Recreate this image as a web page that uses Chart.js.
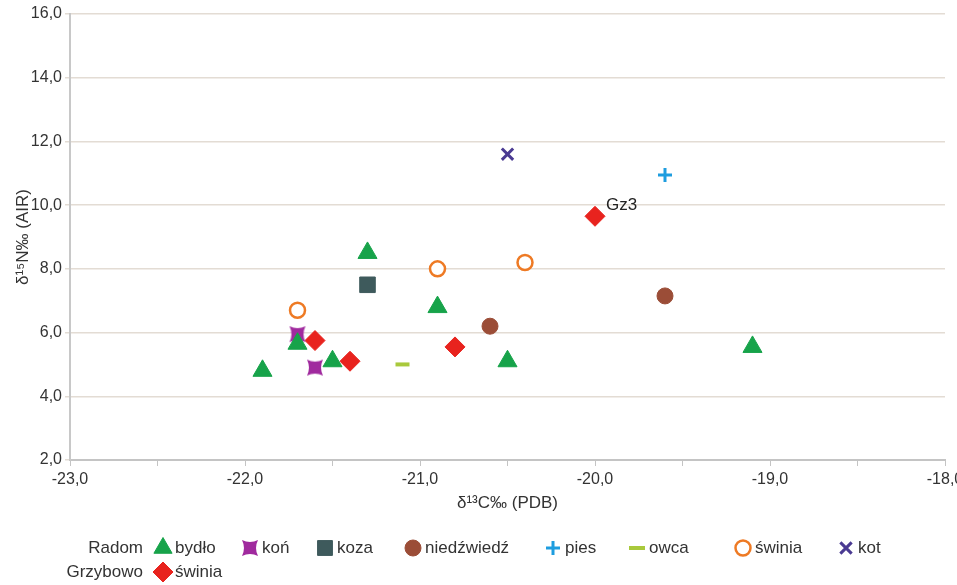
<!DOCTYPE html>
<html lang="pl">
<head>
<meta charset="UTF-8">
<title>δ13C / δ15N</title>
<script src="https://cdn.jsdelivr.net/npm/chart.js"></script>
<style>
  html, body { margin: 0; padding: 0; background: #fff; }
  #wrap { width: 957px; height: 585px; }
</style>
</head>
<body>
<div id="wrap"><canvas id="chart" width="957" height="585"></canvas></div>
<script>
// Radom
const bydloX = [-21.9, -21.7, -21.5, -21.3, -20.9, -20.5, -19.1];
const bydloY = [4.8, 5.65, 5.1, 8.5, 6.8, 5.1, 5.55];
const konX = [-21.7, -21.6];
const konY = [5.95, 4.9];
const kozaX = [-21.3];
const kozaY = [7.5];
const niedzX = [-20.6, -19.6];
const niedzY = [6.2, 7.15];
const piesX = [-19.6];
const piesY = [10.95];
const owcaX = [-21.1];
const owcaY = [5.0];
const swiniaRX = [-21.7, -20.9, -20.4];
const swiniaRY = [6.7, 8.0, 8.2];
const kotX = [-20.5];
const kotY = [11.6];
// Grzybowo
const swiniaGX = [-21.6, -21.4, -20.8, -20.0];
const swiniaGY = [5.75, 5.1, 5.55, 9.65];
const swiniaGLabels = ['', '', '', 'Gz3'];

const pts = (xs, ys) => xs.map((x, i) => ({ x: x, y: ys[i] }));
const fmt = v => v.toFixed(1).replace('.', ',');
const FONT = "'Liberation Sans', Arial, sans-serif";
const TXT = '#333';

// koń marker: concave square
function konImage(size) {
  const c = document.createElement('canvas');
  c.width = size; c.height = size;
  const g = c.getContext('2d');
  const a = 1, b = size - 1, m = size / 2, d = size * 0.22;
  g.fillStyle = '#a02a9e';
  g.beginPath();
  g.moveTo(a, a);
  g.quadraticCurveTo(m, a + d, b, a);
  g.quadraticCurveTo(b - d, m, b, b);
  g.quadraticCurveTo(m, b - d, a, b);
  g.quadraticCurveTo(a + d, m, a, a);
  g.fill();
  return c;
}
const konImg = konImage(18);

const datasets = [
  { label: 'bydło', data: pts(bydloX, bydloY), pointStyle: 'triangle', pointRadius: 11,
    backgroundColor: '#17a34a', borderColor: '#17a34a', borderWidth: 1, group: 'Radom' },
  { label: 'koń', data: pts(konX, konY), pointStyle: konImg, pointRadius: 9,
    backgroundColor: '#a02a9e', borderColor: '#a02a9e', group: 'Radom', legendImg: konImg },
  { label: 'koza', data: pts(kozaX, kozaY), pointStyle: 'rect', pointRadius: 11,
    backgroundColor: '#3e5a5c', borderColor: '#3e5a5c', borderWidth: 1, group: 'Radom' },
  { label: 'niedźwiedź', data: pts(niedzX, niedzY), pointStyle: 'circle', pointRadius: 8,
    backgroundColor: '#9b4d37', borderColor: '#9b4d37', borderWidth: 1, group: 'Radom' },
  { label: 'pies', data: pts(piesX, piesY), pointStyle: 'cross', pointRadius: 7,
    backgroundColor: '#1e9ddf', borderColor: '#1e9ddf', borderWidth: 3, group: 'Radom' },
  { label: 'owca', data: pts(owcaX, owcaY), pointStyle: 'line', pointRadius: 7,
    backgroundColor: '#a9c93c', borderColor: '#a9c93c', borderWidth: 4, group: 'Radom' },
  { label: 'świnia', data: pts(swiniaRX, swiniaRY), pointStyle: 'circle', pointRadius: 7.5,
    backgroundColor: '#ffffff', borderColor: '#ee7a24', borderWidth: 2.5, group: 'Radom' },
  { label: 'kot', data: pts(kotX, kotY), pointStyle: 'crossRot', pointRadius: 8,
    backgroundColor: '#4a3a92', borderColor: '#4a3a92', borderWidth: 3, group: 'Radom' },
  { label: 'świnia', data: pts(swiniaGX, swiniaGY), pointStyle: 'rectRot', pointRadius: 10,
    backgroundColor: '#e8231e', borderColor: '#e8231e', borderWidth: 1, group: 'Grzybowo',
    pointLabels: swiniaGLabels }
];
datasets.forEach(d => { d.pointHoverRadius = d.pointRadius; });

// legend layout (x of marker per item, row y)
const legendRows = [
  { title: 'Radom', y: 548, items: [0, 1, 2, 3, 4, 5, 6, 7], xs: [163, 250, 325, 413, 553, 637, 743, 846] },
  { title: 'Grzybowo', y: 572, items: [8], xs: [163] }
];

function drawMarker(ctx, ds, x, y) {
  if (ds.legendImg) {
    ctx.drawImage(ds.legendImg, x - ds.legendImg.width / 2, y - ds.legendImg.height / 2);
    return;
  }
  ctx.save();
  ctx.fillStyle = ds.backgroundColor;
  ctx.strokeStyle = ds.borderColor;
  ctx.lineWidth = ds.borderWidth || 1;
  const r = Math.min(ds.pointRadius, 10.5);
  Chart.helpers.drawPoint(ctx, { pointStyle: ds.pointStyle, radius: ds.pointStyle === 'line' ? 8 : r, rotation: 0,
    borderWidth: ds.borderWidth || 1 }, x, y);
  ctx.restore();
}

const extras = {
  id: 'extras',
  afterDatasetsDraw(chart) {
    const ctx = chart.ctx;
    ctx.save();
    ctx.font = '17px ' + FONT;
    ctx.fillStyle = '#222';
    ctx.textBaseline = 'bottom';
    ctx.textAlign = 'left';
    chart.data.datasets.forEach((ds, di) => {
      if (!ds.pointLabels) return;
      const meta = chart.getDatasetMeta(di);
      meta.data.forEach((el, i) => {
        const t = ds.pointLabels[i];
        if (t) ctx.fillText(t, el.x + 11, el.y - 2);
      });
    });
    ctx.restore();
  },
  afterDraw(chart) {
    const ctx = chart.ctx;
    ctx.save();
    ctx.font = '17px ' + FONT;
    ctx.fillStyle = TXT;
    ctx.textBaseline = 'middle';
    legendRows.forEach(row => {
      ctx.textAlign = 'right';
      ctx.fillStyle = TXT;
      ctx.fillText(row.title, 143, row.y);
      row.items.forEach((di, k) => {
        const ds = chart.data.datasets[di];
        const x = row.xs[k];
        drawMarker(ctx, ds, x, row.y);
        ctx.textAlign = 'left';
        ctx.fillStyle = TXT;
        ctx.fillText(ds.label, x + 12, row.y);
      });
    });
    ctx.restore();
  }
};

new Chart(document.getElementById('chart'), {
  type: 'scatter',
  data: { datasets: datasets },
  plugins: [extras],
  options: {
    responsive: false,
    animation: false,
    layout: { padding: { top: 14, right: 12, bottom: 65, left: 9 } },
    plugins: { legend: { display: false }, tooltip: { enabled: false } },
    scales: {
      x: {
        min: -23, max: -18,
        ticks: {
          stepSize: 0.5, autoSkip: false, maxRotation: 0, color: TXT,
          font: { family: FONT, size: 16 }, padding: 4,
          callback: v => (Math.abs(v - Math.round(v)) < 1e-6 ? fmt(v) : '')
        },
        grid: { drawOnChartArea: false, drawTicks: true, tickLength: 6, color: '#c4c4c4' },
        border: { color: '#c4c4c4', width: 2 },
        title: { display: true, text: 'δ¹³C‰ (PDB)', color: TXT, font: { family: FONT, size: 17 }, padding: { top: 0, bottom: 6 } },
        afterFit(s) { s.height = 60; s.paddingLeft = 0; s.paddingRight = 0; }
      },
      y: {
        min: 2, max: 16,
        ticks: { stepSize: 2, color: TXT, font: { family: FONT, size: 16 }, padding: 3, callback: v => fmt(v) },
        grid: { color: '#e3dcd4', tickLength: 5, lineWidth: 1.5 },
        border: { color: '#c8c8c8', width: 2 },
        title: { display: true, text: 'δ¹⁵N‰ (AIR)', color: TXT, font: { family: FONT, size: 17 }, padding: { bottom: 2 } },
        afterFit(s) { s.width = 61; s.paddingTop = 0; s.paddingBottom = 0; }
      }
    }
  }
});
</script>
</body>
</html>
